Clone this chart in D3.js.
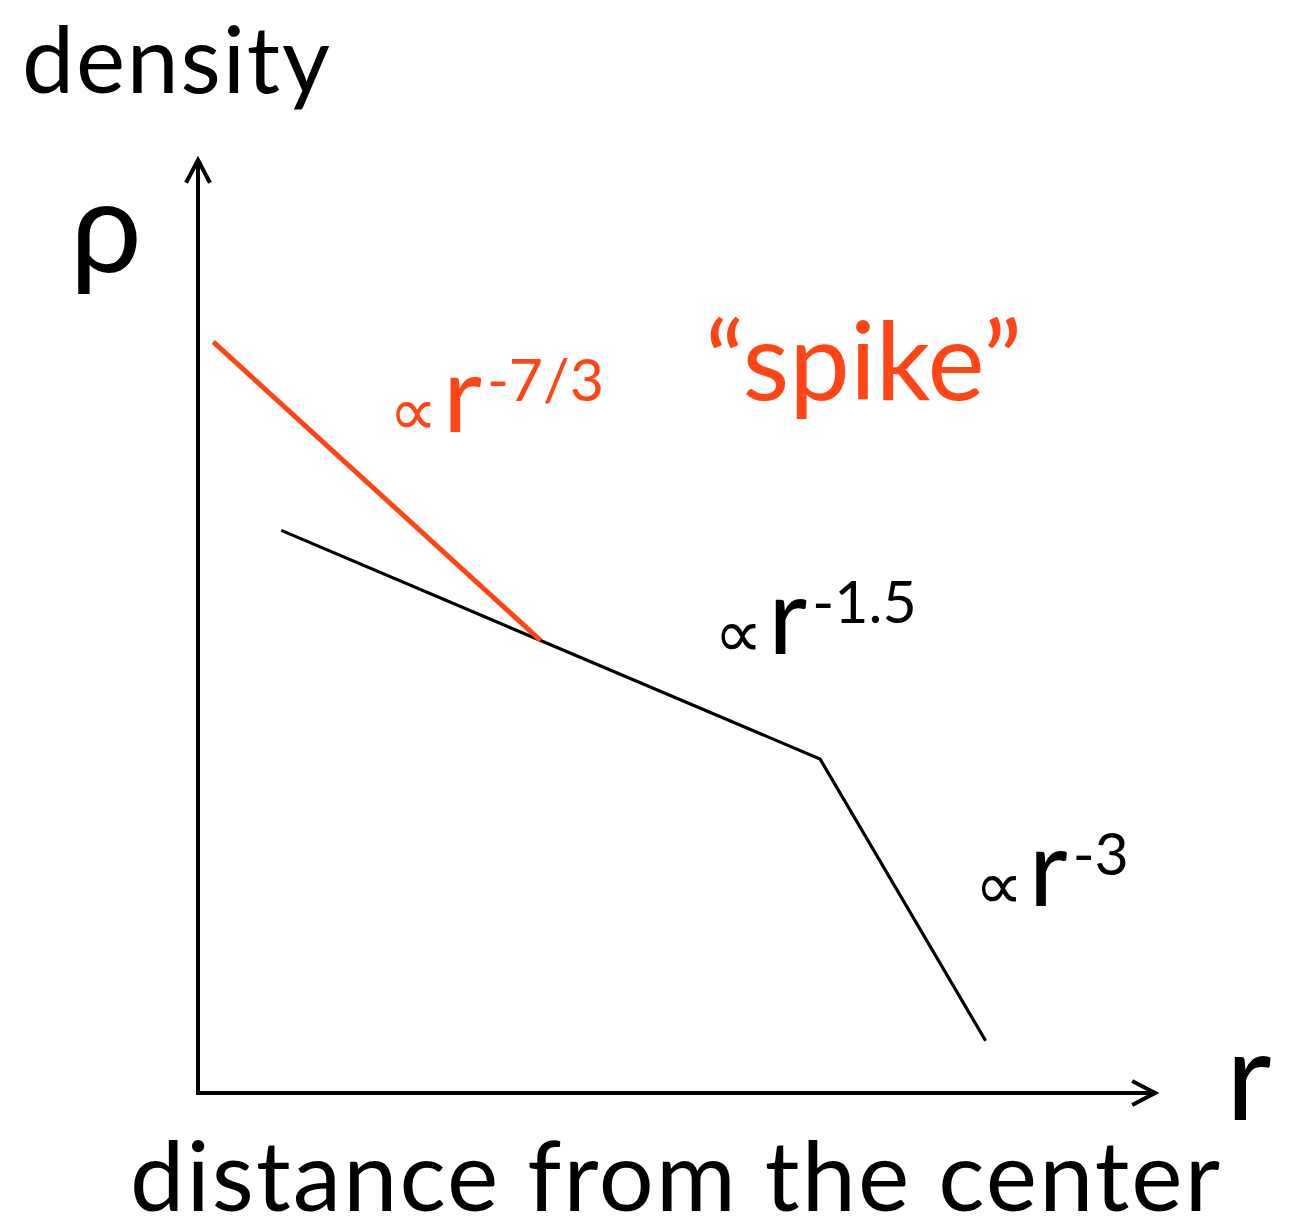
<!DOCTYPE html>
<html>
<head>
<meta charset="utf-8">
<script src="https://cdn.jsdelivr.net/npm/d3@7"></script>
<style>
  html, body { margin: 0; padding: 0; background: #fff; }
  svg { display: block; }
  text { font-family: Lato, "Open Sans", "DejaVu Sans", sans-serif; }
</style>
</head>
<body>
<svg id="chart" width="1304" height="1232"></svg>
<script>
// Schematic density profile (arbitrary units): radius r vs density rho
const xDomain = [0, 10];
const yDomain = [0, 10];

// Outer profile: r^-1.5 cusp that steepens to r^-3
const profileR   = [0.87, 3.58, 6.50, 8.23];
const profileRho = [6.03, 4.85, 3.58, 0.56];

// Inner "spike": r^-7/3 rising above the cusp
const spikeR   = [0.16, 3.58];
const spikeRho = [8.05, 4.85];

// Slope labels, anchored at the "r" glyph
const slopeExps   = ["-7/3", "-1.5", "-3"];
const slopeLabelR   = [2.57, 5.97, 8.69];
const slopeLabelRho = [7.08, 4.70, 2.00];

const RED = "#ff4516";
const slopeColors = [RED, "#000", "#000"];

const svg = d3.select("#chart");

const x = d3.scaleLinear().domain(xDomain).range([198, 1155]);
const y = d3.scaleLinear().domain(yDomain).range([1093, 160]);

// Open chevron arrowhead
svg.append("defs").append("marker")
  .attr("id", "arrow")
  .attr("markerUnits", "userSpaceOnUse")
  .attr("viewBox", "-24 -14 28 28")
  .attr("markerWidth", 28).attr("markerHeight", 28)
  .attr("refX", 0).attr("refY", 0)
  .attr("orient", "auto")
  .append("path")
  .attr("d", "M-21,-11L0,0L-21,11")
  .attr("fill", "none").attr("stroke", "#000")
  .attr("stroke-width", 4).attr("stroke-linecap", "square");

// Axes
svg.append("path")
  .attr("d", `M${x(0)},${y(0) + 2}V${y(yDomain[1])}`)
  .attr("stroke", "#000").attr("stroke-width", 4).attr("fill", "none")
  .attr("marker-end", "url(#arrow)");
svg.append("path")
  .attr("d", `M${x(0) - 2},${y(0)}H${x(xDomain[1])}`)
  .attr("stroke", "#000").attr("stroke-width", 4).attr("fill", "none")
  .attr("marker-end", "url(#arrow)");

const line = d3.line().x(d => x(d[0])).y(d => y(d[1]));

svg.append("path")
  .datum(d3.zip(profileR, profileRho))
  .attr("d", line)
  .attr("fill", "none").attr("stroke", "#000").attr("stroke-width", 3.2);

svg.append("path")
  .datum(d3.zip(spikeR, spikeRho))
  .attr("d", line)
  .attr("fill", "none").attr("stroke", RED).attr("stroke-width", 5);

// Slope labels: "∝ r^exp"
slopeExps.forEach((exp, i) => {
  const bx = x(slopeLabelR[i]), by = y(slopeLabelRho[i]);
  const g = svg.append("g").attr("fill", slopeColors[i]);
  g.append("text").attr("x", bx - 55).attr("y", by + 3)
    .attr("font-size", 68).attr("font-family", "DejaVu Sans").text("∝");
  g.append("text").attr("x", bx - 1).attr("y", by)
    .attr("font-size", 107).text("r");
  g.append("text").attr("x", bx + 43).attr("y", by - 31)
    .attr("font-size", 59).text(exp);
});

// Titles
svg.append("text").attr("x", 22).attr("y", 93)
  .attr("font-size", 93).attr("textLength", 308).attr("lengthAdjust", "spacing")
  .text("density");
svg.append("text").attr("x", 70).attr("y", 272)
  .attr("font-size", 128).text("ρ");
svg.append("text").attr("x", 705).attr("y", 400)
  .attr("font-size", 108).attr("fill", RED).text("“spike”");
svg.append("text").attr("x", 1226).attr("y", 1120)
  .attr("font-size", 125).text("r");
svg.append("text").attr("x", 130).attr("y", 1211)
  .attr("font-size", 97).attr("textLength", 1090).attr("lengthAdjust", "spacing")
  .text("distance from the center");
</script>
</body>
</html>
